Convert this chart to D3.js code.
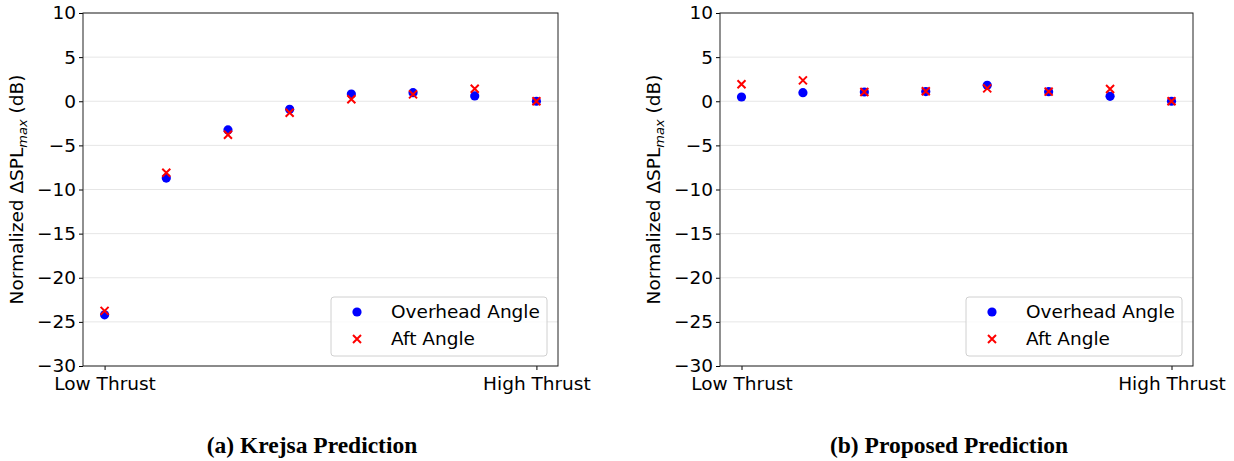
<!DOCTYPE html>
<html><head><meta charset="utf-8">
<script src="https://cdn.jsdelivr.net/npm/d3@7"></script>
<style>body{margin:0;background:#fff}svg{display:block}</style>
</head><body>
<svg id="c" width="1234" height="461"></svg>
<script>
const categories = [0,1,2,3,4,5,6,7];
const xTickLabels = ["Low Thrust","High Thrust"];
const yTicks = [10,5,0,-5,-10,-15,-20,-25,-30];
const krejsaOverhead = [-24.2,-8.7,-3.25,-0.92,0.82,0.97,0.6,0.0];
const krejsaAft      = [-23.75,-8.1,-3.8,-1.3,0.22,0.78,1.42,0.0];
const proposedOverhead = [0.48,0.97,1.05,1.1,1.8,1.09,0.56,0.0];
const proposedAft      = [1.92,2.37,1.05,1.14,1.46,1.09,1.39,0.0];
const captions = ["(a) Krejsa Prediction","(b) Proposed Prediction"];
const seriesNames = ["Overhead Angle","Aft Angle"];

const svg = d3.select("#c");
const font = "DejaVu Sans, sans-serif";
const fs = 18.5;

function panel(x0, x1, overhead, aft, caption, capX){
  const top = 13, bottom = 366;
  const x = d3.scaleLinear().domain([-0.35, 7.35]).range([x0, x1]);
  const y = d3.scaleLinear().domain([-30, 10]).range([bottom, top]);
  const g = svg.append("g");
  // grid
  g.selectAll("line.grid").data(yTicks).enter().append("line")
    .attr("x1", x0).attr("x2", x1).attr("y1", d=>y(d)).attr("y2", d=>y(d))
    .attr("stroke", "#e6e6e6").attr("stroke-width", 1);
  // y axis
  const ya = g.append("g").attr("transform", `translate(${x0},0)`)
    .call(d3.axisLeft(y).tickValues(yTicks).tickSize(4).tickPadding(3)
      .tickFormat(d => d < 0 ? "\u2212" + Math.abs(d) : d));
  ya.select(".domain").remove();
  ya.selectAll("text").attr("font-family", font).attr("font-size", fs).attr("fill", "#000");
  ya.selectAll("line").attr("stroke", "#000");
  // x axis
  const xa = g.append("g").attr("transform", `translate(0,${bottom})`)
    .call(d3.axisBottom(x).tickValues([0,7]).tickSize(4).tickPadding(7)
      .tickFormat((d,i) => xTickLabels[i]));
  xa.select(".domain").remove();
  xa.selectAll("text").attr("font-family", font).attr("font-size", fs).attr("fill", "#000");
  xa.selectAll("line").attr("stroke", "#000");
  // frame
  g.append("rect").attr("x", x0).attr("y", top).attr("width", x1-x0).attr("height", bottom-top)
    .attr("fill", "none").attr("stroke", "#222").attr("stroke-width", 1);
  // y label
  const lab = g.append("text")
    .attr("transform", `translate(${x0-60},${(top+bottom)/2}) rotate(-90)`)
    .attr("text-anchor", "middle").attr("font-family", font).attr("font-size", fs);
  lab.append("tspan").text("Normalized \u0394SPL");
  lab.append("tspan").attr("font-style", "italic").attr("font-size", 13).attr("dy", 4).text("max");
  lab.append("tspan").attr("dy", -4).text(" (dB)");
  // points
  g.selectAll("circle.o").data(categories).enter().append("circle")
    .attr("cx", d=>x(d)).attr("cy", d=>y(overhead[d])).attr("r", 4.6).attr("fill", "#0000ff");
  const s = 4;
  const cross = g.selectAll("g.a").data(categories).enter().append("g")
    .attr("transform", d=>`translate(${x(d)},${y(aft[d])})`);
  cross.append("path").attr("d", `M${-s},${-s}L${s},${s}M${-s},${s}L${s},${-s}`)
    .attr("stroke", "#ff0000").attr("stroke-width", 2);
  // legend
  const lx = x1 - 227, ly = 297;
  g.append("rect").attr("x", lx).attr("y", ly).attr("width", 216).attr("height", 59).attr("rx", 3)
    .attr("fill", "#fff").attr("fill-opacity", 0.8).attr("stroke", "#d0d0d0");
  g.append("circle").attr("cx", lx+26).attr("cy", ly+15).attr("r", 4.6).attr("fill", "#0000ff");
  g.append("path").attr("transform", `translate(${lx+26},${ly+42})`)
    .attr("d", `M${-s},${-s}L${s},${s}M${-s},${s}L${s},${-s}`)
    .attr("stroke", "#ff0000").attr("stroke-width", 2);
  g.append("text").attr("x", lx+60).attr("y", ly+21).attr("font-family", font).attr("font-size", fs).text(seriesNames[0]);
  g.append("text").attr("x", lx+60).attr("y", ly+48).attr("font-family", font).attr("font-size", fs).text(seriesNames[1]);
  // caption
  svg.append("text").attr("x", capX).attr("y", 453).attr("text-anchor", "middle")
    .attr("font-family", "Liberation Serif, Times New Roman, serif").attr("font-weight", "bold")
    .attr("font-size", 23.5).text(caption);
}
panel(83, 558, krejsaOverhead, krejsaAft, captions[0], 312);
panel(720, 1193, proposedOverhead, proposedAft, captions[1], 949);
</script>
</body></html>
